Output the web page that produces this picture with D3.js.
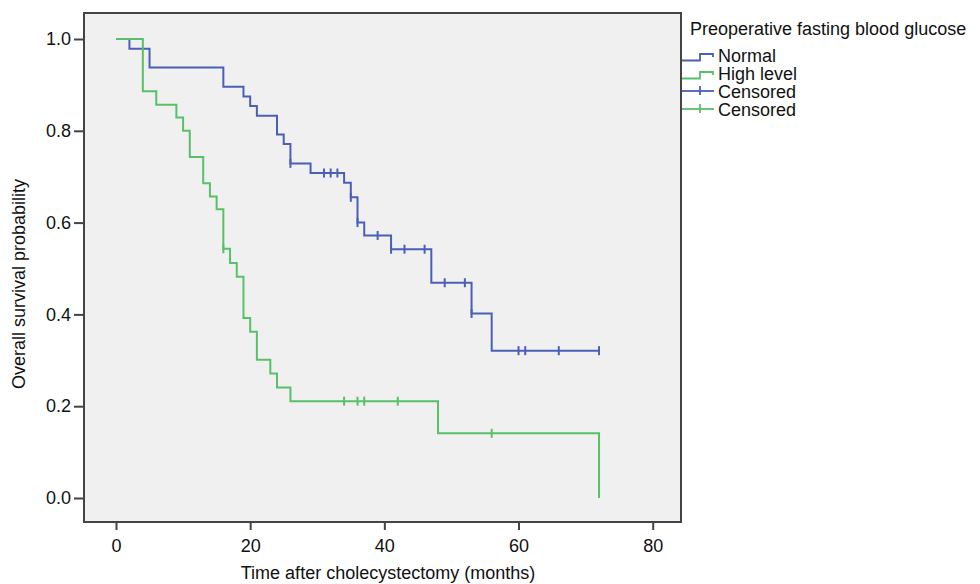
<!DOCTYPE html>
<html lang="en">
<head>
<meta charset="UTF-8">
<title>Overall survival by preoperative fasting blood glucose</title>
<script src="https://d3js.org/d3.v7.min.js"></script>
<style>
  body { margin: 0; background: #fff; }
  text { font-family: "Liberation Sans", Arial, sans-serif; fill: #111; }
  .axis path, .axis line { stroke: #444; stroke-width: 2; }
  .axis text { font-size: 18px; }
  .curve { fill: none; stroke-width: 2; }
  .cens { stroke-width: 2; }
</style>
</head>
<body>
<script>
// Kaplan-Meier steps: time of each drop and survival after it
var normalTimes = [0, 2, 5, 16, 19, 20, 21, 24, 25, 26, 29, 34, 35, 36, 37, 41, 47, 53, 56];
var normalSurv  = [1.0, 0.979, 0.938, 0.896, 0.875, 0.854, 0.833, 0.792, 0.771, 0.729, 0.708, 0.687, 0.655, 0.600, 0.572, 0.542, 0.469, 0.402, 0.321];
var normalEnd = 72;
var normalCensored = [26, 31, 32, 33, 35, 36, 39, 41, 43, 46, 49, 52, 53, 60, 61, 66, 72];

var highTimes = [0, 4, 6, 9, 10, 11, 13, 14, 15, 16, 17, 18, 19, 20, 21, 23, 24, 26, 48, 72];
var highSurv  = [1.0, 0.886, 0.857, 0.829, 0.800, 0.743, 0.686, 0.657, 0.629, 0.543, 0.512, 0.482, 0.392, 0.362, 0.301, 0.271, 0.241, 0.211, 0.141, 0.0];
var highEnd = 72;
var highCensored = [16, 34, 36, 37, 42, 56];

var xTicks = [0, 20, 40, 60, 80];
var yTicks = [0.0, 0.2, 0.4, 0.6, 0.8, 1.0];

var blue = "#4a5fb8", green = "#58c068";

var svg = d3.select("body").append("svg").attr("width", 980).attr("height", 584);

var x = d3.scaleLinear().domain([0, 80]).range([116, 652.7]);
var y = d3.scaleLinear().domain([0, 1]).range([498, 39]);

// plot frame
svg.append("rect")
   .attr("x", 84).attr("y", 13).attr("width", 597).attr("height", 509)
   .attr("fill", "#f0f0f0").attr("stroke", "#444").attr("stroke-width", 2);

var xAxis = svg.append("g").attr("class", "axis")
   .attr("transform", "translate(0,522)")
   .call(d3.axisBottom(x).tickValues(xTicks).tickSize(8).tickPadding(9).tickFormat(d3.format("d")));
xAxis.select(".domain").remove();

var yAxis = svg.append("g").attr("class", "axis")
   .attr("transform", "translate(84,0)")
   .call(d3.axisLeft(y).tickValues(yTicks).tickSize(10).tickPadding(3).tickFormat(d3.format(".1f")));
yAxis.select(".domain").remove();

// axis titles
svg.append("text").attr("x", 388).attr("y", 579).attr("text-anchor", "middle")
   .style("font-size", "18px").text("Time after cholecystectomy (months)");
svg.append("text").attr("transform", "translate(25,284) rotate(-90)").attr("text-anchor", "middle")
   .style("font-size", "18px").text("Overall survival probability");

function survAt(times, surv, t) {
  var i = d3.bisectRight(times, t) - 1;
  return surv[Math.max(i, 0)];
}

var step = d3.line().x(function(d){ return x(d[0]); }).y(function(d){ return y(d[1]); })
             .curve(d3.curveStepAfter);

function drawGroup(times, surv, end, censored, color) {
  var pts = times.map(function(t, i){ return [t, surv[i]]; });
  if (pts[pts.length - 1][0] < end) pts.push([end, surv[surv.length - 1]]);
  svg.append("path").attr("class", "curve").attr("d", step(pts)).attr("stroke", color);
  svg.append("g").selectAll("line").data(censored).enter().append("line")
     .attr("class", "cens").attr("stroke", color)
     .attr("x1", function(d){ return x(d); }).attr("x2", function(d){ return x(d); })
     .attr("y1", function(d){ return y(survAt(times, surv, d)) - 4.5; })
     .attr("y2", function(d){ return y(survAt(times, surv, d)) + 4.5; });
}

drawGroup(normalTimes, normalSurv, normalEnd, normalCensored, blue);
drawGroup(highTimes, highSurv, highEnd, highCensored, green);

// legend
var legend = svg.append("g");
legend.append("text").attr("x", 690).attr("y", 35).style("font-size", "18px")
      .text("Preoperative fasting blood glucose");
var items = [
  {label: "Normal", color: blue, kind: "step"},
  {label: "High level", color: green, kind: "step"},
  {label: "Censored", color: blue, kind: "cens"},
  {label: "Censored", color: green, kind: "cens"}
];
items.forEach(function(it, i) {
  var base = 62 + i * 18;
  if (it.kind === "step") {
    legend.append("path").attr("fill", "none").attr("stroke", it.color).attr("stroke-width", 1.8)
          .attr("d", "M682," + (base - 1.5) + "H700V" + (base - 8) + "H713V" + (base - 5));
  } else {
    legend.append("line").attr("stroke", it.color).attr("stroke-width", 1.8)
          .attr("x1", 682).attr("x2", 714).attr("y1", base - 7).attr("y2", base - 7);
    legend.append("line").attr("stroke", it.color).attr("stroke-width", 1.8)
          .attr("x1", 700).attr("x2", 700).attr("y1", base - 12).attr("y2", base - 3);
  }
  legend.append("text").attr("x", 718).attr("y", base).style("font-size", "18px").text(it.label);
});
</script>
</body>
</html>
